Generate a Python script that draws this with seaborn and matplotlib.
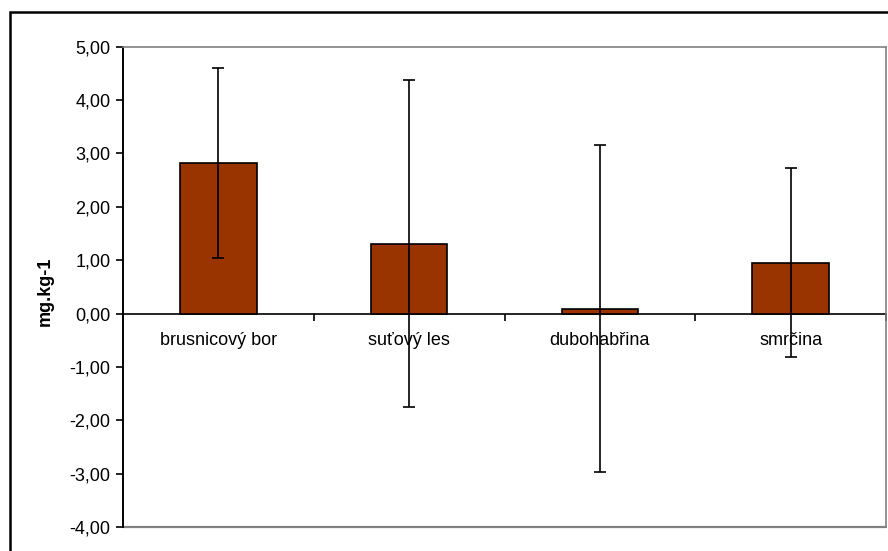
import matplotlib
matplotlib.use("Agg")
import matplotlib.pyplot as plt
import seaborn as sns
import pandas as pd
import numpy as np
from matplotlib.ticker import FuncFormatter, FixedLocator
from matplotlib.patches import Rectangle
import matplotlib.transforms as mtransforms

categories = ["brusnicový bor", "suťový les", "dubohabřina", "smrčina"]
values = [2.82, 1.31, 0.09, 0.95]
errors = [1.78, 3.07, 3.06, 1.77]
y_ticks = [-4, -3, -2, -1, 0, 1, 2, 3, 4, 5]
y_label = "mg.kg-1"

sns.set_theme(style="white")
plt.rcParams['font.family'] = ['Liberation Sans', 'DejaVu Sans']

df = pd.DataFrame({"cat": categories, "val": values, "err": errors})

fig = plt.figure(figsize=(8.88, 5.51), dpi=100)
ax = fig.add_axes([123/888, 1 - 527/551, (886-123)/888, (527-46.7)/551])

sns.barplot(data=df, x="cat", y="val", order=categories, color="#993300",
            edgecolor="black", linewidth=1.2, width=0.4, saturation=1,
            errorbar=None, ax=ax, zorder=2)
ax.errorbar(np.arange(len(categories)), df["val"], yerr=df["err"], fmt="none",
            ecolor="black", elinewidth=1.2, capsize=4.5, capthick=1.2, zorder=3)

ax.set_xlim(-0.5, len(categories) - 0.5)
ax.set_ylim(min(y_ticks), max(y_ticks))
ax.yaxis.set_major_locator(FixedLocator(y_ticks))
ax.yaxis.set_major_formatter(FuncFormatter(lambda v, p: f"{v:.2f}".replace(".", ",")))
ax.tick_params(axis="y", direction="out", length=5, width=1.2, color="black",
               labelsize=13, pad=4, left=True, labelcolor="black")

# spines
for s in ["top", "right"]:
    ax.spines[s].set_color("#808080")
    ax.spines[s].set_linewidth(1.2)
ax.spines["left"].set_color("black")
ax.spines["left"].set_linewidth(1.4)
ax.spines["bottom"].set_position(("data", 0))
ax.spines["bottom"].set_color("black")
ax.spines["bottom"].set_linewidth(1.2)
ax.spines["bottom"].set_zorder(1)
ax.plot([0, 1], [0, 0], transform=ax.transAxes, color="#808080", lw=1.6,
        clip_on=False, zorder=1)

ax.set_xticks(np.arange(len(categories) + 1) - 0.5)
ax.set_xticklabels([])
ax.tick_params(axis="x", direction="out", length=5, width=1.2, color="black", bottom=True)
ax.set_xlabel("")

trans = mtransforms.offset_copy(ax.transData, fig=fig, y=-27, units="dots")
for i, c in enumerate(categories):
    ax.text(i, 0, c, transform=trans, ha="center", va="center", fontsize=13,
            color="black")

ax.set_ylabel(y_label, fontsize=13, fontweight="bold", color="black")
ax.yaxis.set_label_coords((45 - 123) / 763, (527 - 291) / (527 - 46.7))
ax.yaxis.label.set_va("center")

# figure border (cropped at right and bottom)
fig.patches.append(Rectangle((10/888, -0.05), 1.0, 1 - 12/551 + 0.05,
                             transform=fig.transFigure, fill=False,
                             edgecolor="black", linewidth=1.8))

fig.savefig("out.png", dpi=100)
